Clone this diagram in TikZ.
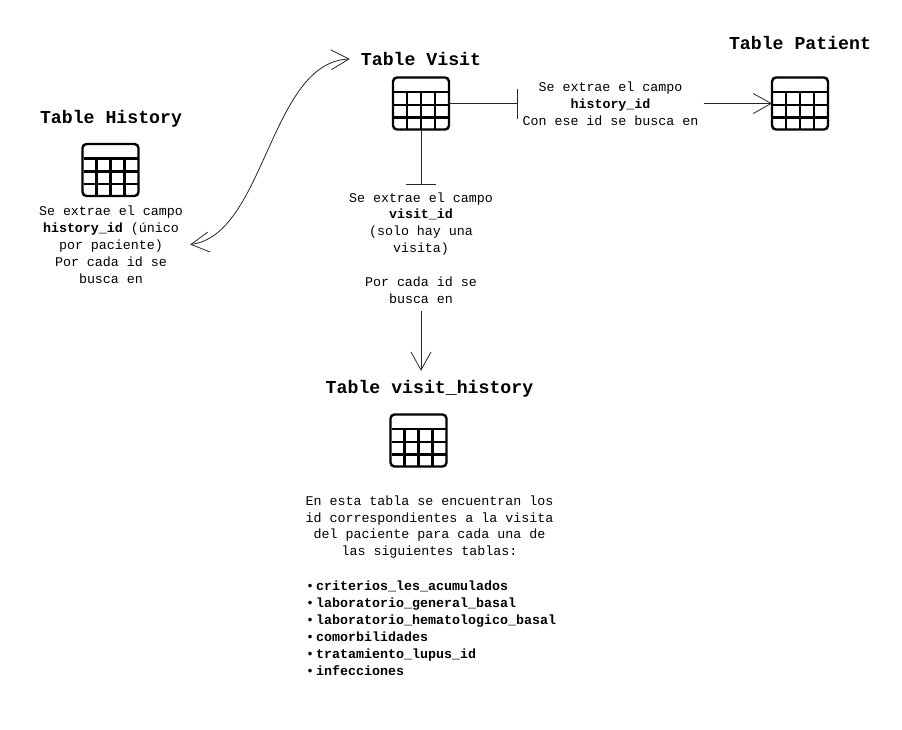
\documentclass[tikz,border=0pt]{standalone}
\usepackage{fontspec}
\setmainfont{Liberation Mono}
\usepackage{tikz}
\usetikzlibrary{arrows.meta}
\usetikzlibrary{positioning}

\newcommand{\tablebullet}[1]{\makebox[10pt][l]{•}\textbf{#1}}

\tikzset{
	tabletitle/.style={font=\fontsize{18.2}{20}\selectfont\bfseries, inner sep=0pt, minimum height=36pt},
	tabletext/.style={font=\fontsize{13.33}{16.9}\selectfont, align=center, inner sep=0pt},
	tableicon/.style={draw, line width=2.4pt, rounded corners=4pt, outer sep=0pt, inner sep=0pt,
		minimum width=56pt, minimum height=52pt},
	tablegrid/.style={line width=2.6pt},
	barline/.style={line width=0.8pt, black!85, -{Bar[width=30pt]}},
	openline/.style={line width=0.8pt, black!85, -{Straight Barb[length=18pt,width=20pt]}},
	bothline/.style={line width=0.8pt, black!85, {Straight Barb[length=18pt,width=20pt]}-{Straight Barb[length=18pt,width=20pt]}}
}

\begin{document}
\begin{tikzpicture}[x=1pt, y=-1pt]
	\useasboundingbox (0,0) rectangle (902,729);

	\node [tabletitle, inner xsep=11pt] (visittitle) at (421,59) {Table Visit};
	\node [tableicon] (visiticon) at (421,103.5) {};
	\node [tabletext, minimum width=186pt] (historyfield) at (610.5,103.5)
		{Se extrae el campo\\ \textbf{history\_id}\\ Con ese id se busca en};
	\node [tabletext, minimum height=126pt] (visitfield) at (421,248)
		{Se extrae el campo\\ \textbf{visit\_id}\\ (solo hay una\\ visita)\\[16.9pt] Por cada id se\\ busca en};

	\node [tabletitle] (patienttitle) at (800,43) {Table Patient};
	\node [tableicon] (patienticon) at (800,103.5) {};

	\node [tabletitle] (historytitle) at (111,118.5) {Table History};
	\node [tableicon] (historyicon) at (110.5,170) {};
	\node [tabletext, inner xsep=7pt] (historytext) at (111,244.5)
		{Se extrae el campo\\ \textbf{history\_id} (único\\ por paciente)\\ Por cada id se\\ busca en};

	\node [tabletitle] (vhtitle) at (429.5,389) {Table visit\_history};
	\node [tableicon] (vhicon) at (418.5,440.5) {};
	\node [tabletext] (vhtext) at (429.5,527)
		{En esta tabla se encuentran los\\ id correspondientes a la visita\\ del paciente para cada una de\\ las siguientes tablas:};
	\node [tabletext, align=left, anchor=west] (vhlist) at (306,628)
		{\tablebullet{criterios\_les\_acumulados}\\
		\tablebullet{laboratorio\_general\_basal}\\
		\tablebullet{laboratorio\_hematologico\_basal}\\
		\tablebullet{comorbilidades}\\
		\tablebullet{tratamiento\_lupus\_id}\\
		\tablebullet{infecciones}};

	\foreach \iconname in {visiticon,patienticon,historyicon,vhicon} {
		\begin{scope}[shift={(\iconname.center)}]
			\foreach \rowy in {-11.5,1.5,14} {\draw [tablegrid] (-27,\rowy) -- (27,\rowy);}
			\foreach \colx in {-14,0,14} {\draw [tablegrid] (\colx,-11.5) -- (\colx,25);}
		\end{scope}
	}

	\draw [barline] (visiticon.east) -- (historyfield.west);
	\draw [openline] (historyfield.east) -- (patienticon.west);
	\draw [barline] (visiticon.south) -- (visitfield.north);
	\draw [openline] (visitfield.south) -- (visitfield.south |- vhtitle.north);
	\draw [bothline] (historytext.east) .. controls (265,235) and (270,62) .. (visittitle.west);
\end{tikzpicture}
\end{document}
